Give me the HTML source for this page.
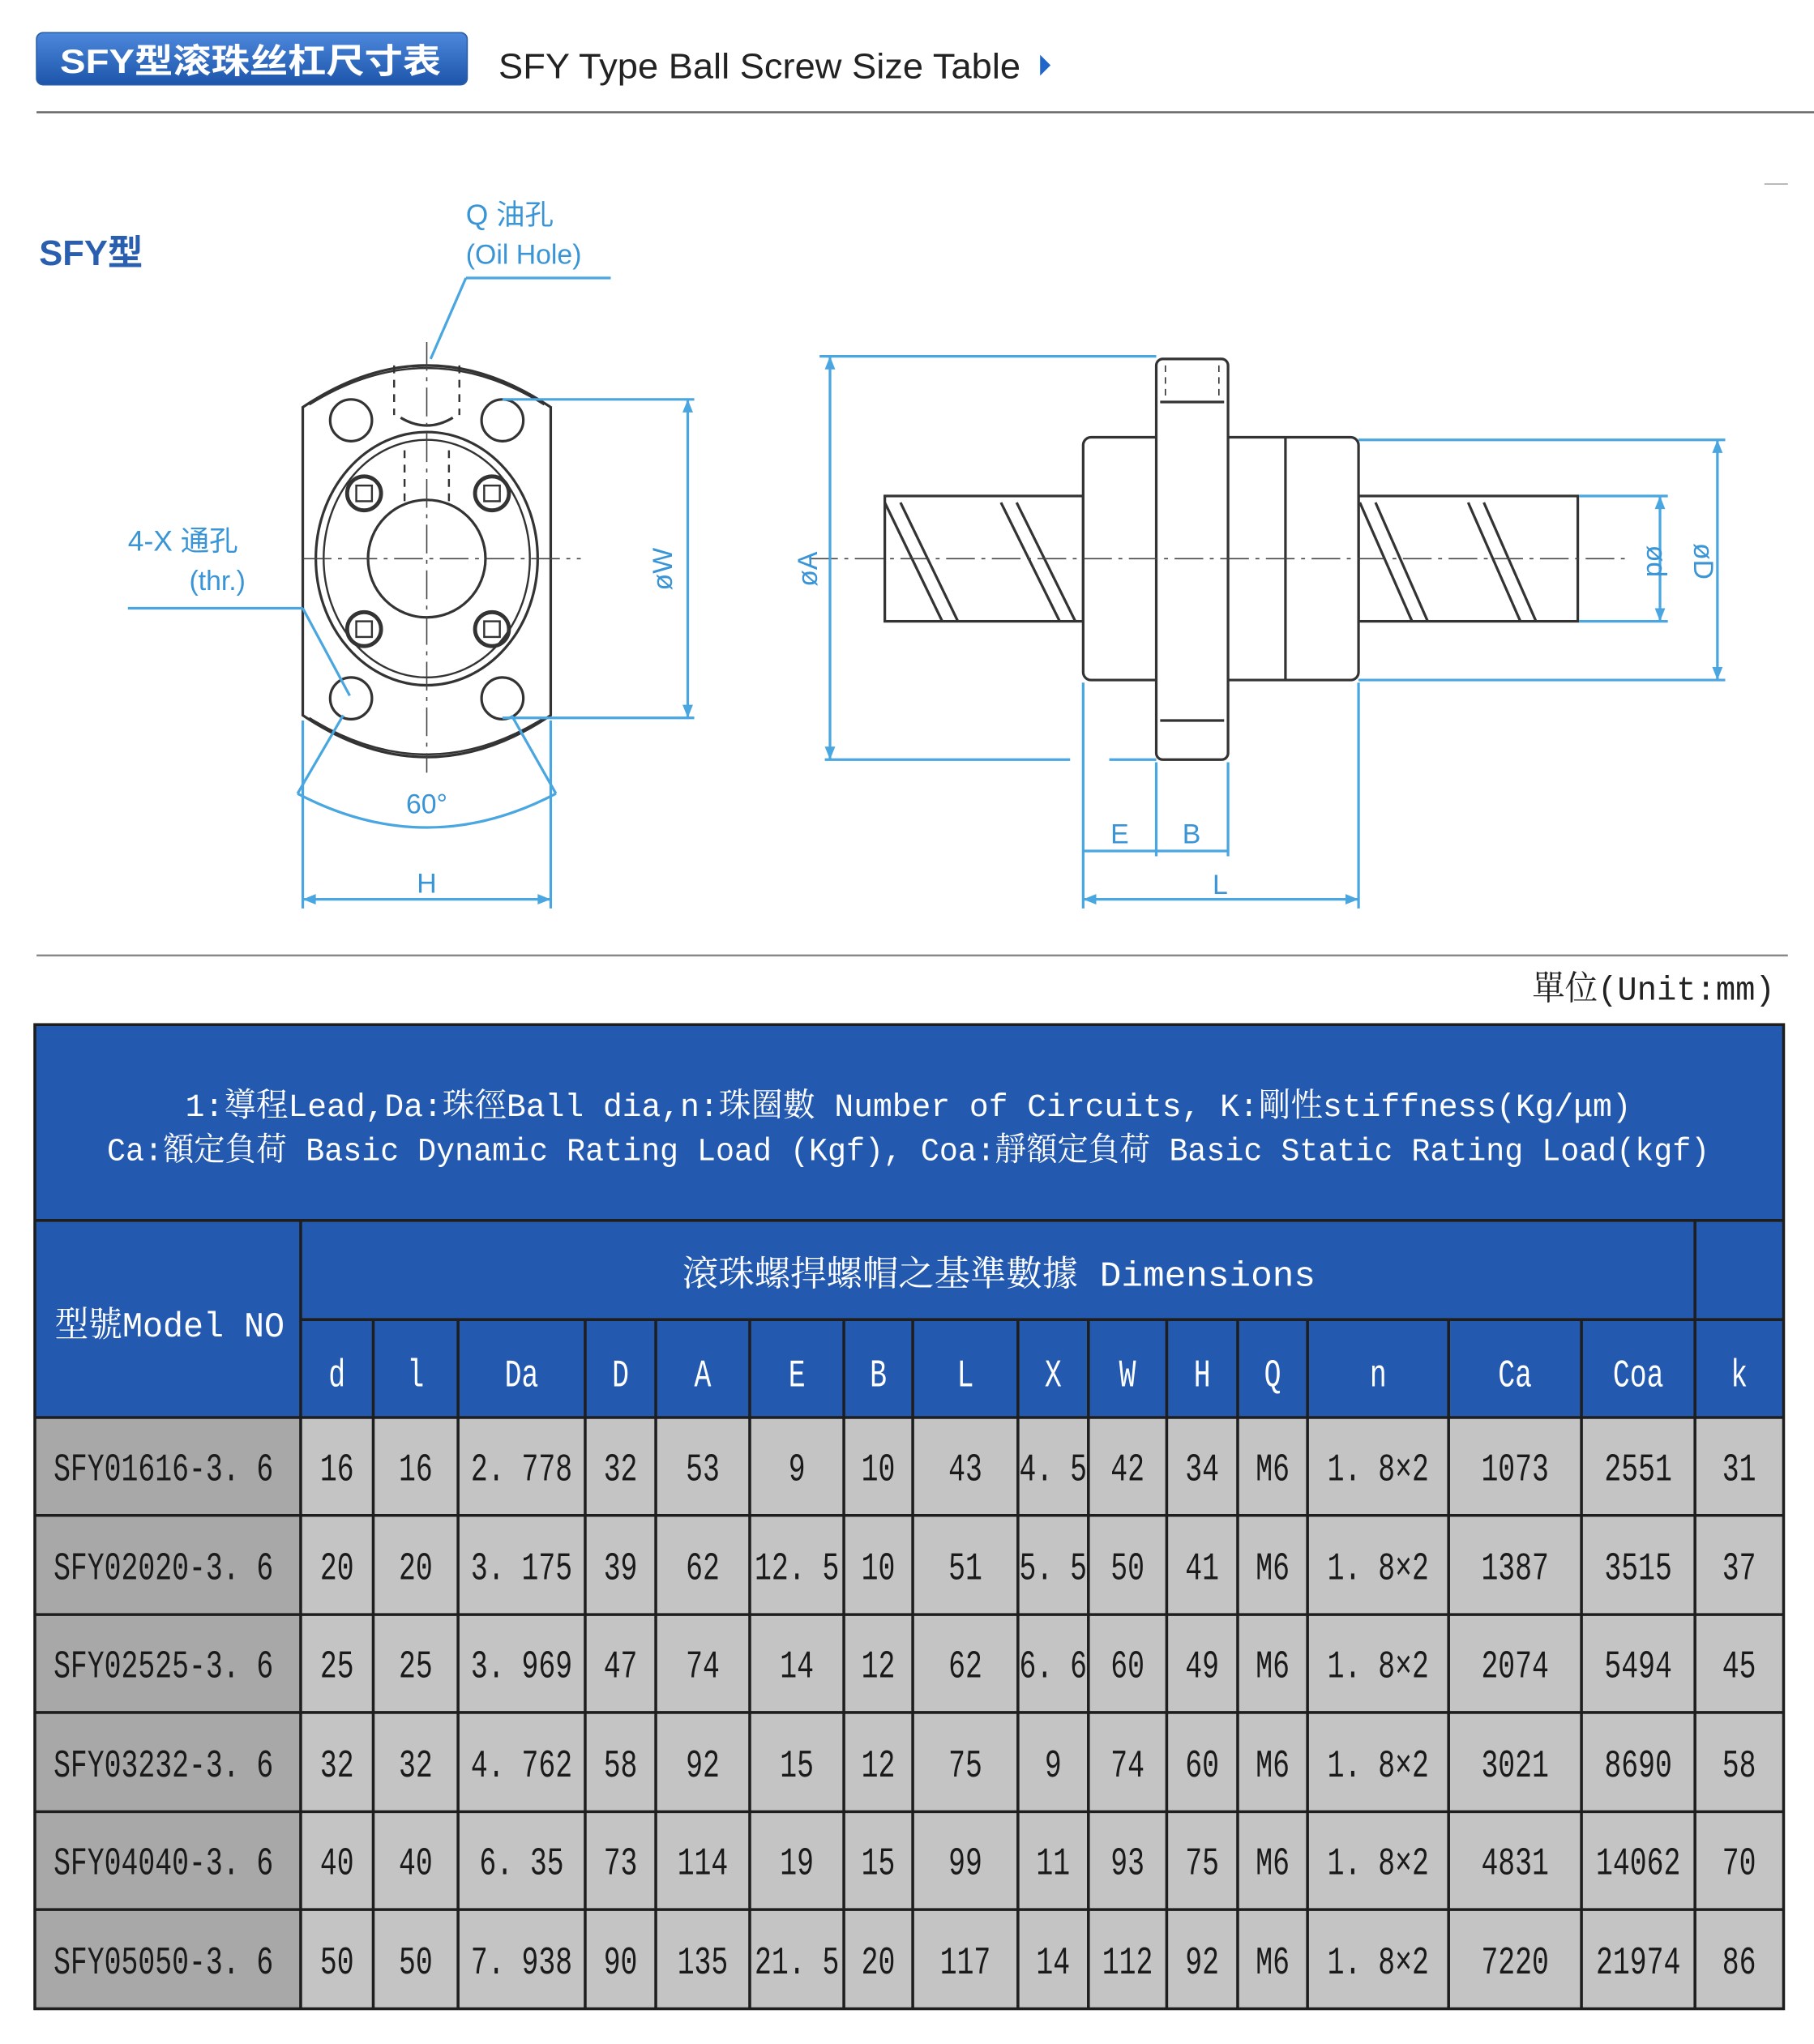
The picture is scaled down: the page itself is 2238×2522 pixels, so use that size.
<!DOCTYPE html>
<html><head><meta charset="utf-8"><style>
html,body{margin:0;padding:0;background:#fff;}
svg{display:block}
</style></head><body>
<svg width="2238" height="2522" viewBox="0 0 1390 1566" preserveAspectRatio="none" xmlns="http://www.w3.org/2000/svg">
<defs>
<linearGradient id="bg" x1="0" y1="0" x2="0" y2="1"><stop offset="0" stop-color="#4d88dc"/><stop offset="1" stop-color="#1c55aa"/></linearGradient>
</defs>
<rect width="1390" height="1566" fill="#fff"/>
<rect x="28" y="25" width="330" height="40" rx="5" fill="url(#bg)" stroke="#2b5ea8"/>
<text x="46" y="56" font-family="Liberation Sans, Noto Sans CJK SC, sans-serif" font-weight="bold" font-size="26" fill="#fff" textLength="292" lengthAdjust="spacingAndGlyphs">SFY型滚珠丝杠尺寸表</text>
<text x="382" y="60" font-family="Liberation Sans, sans-serif" font-size="27" fill="#222" textLength="400" lengthAdjust="spacingAndGlyphs">SFY Type Ball Screw Size Table</text>
<polygon points="797,42 805,50 797,58" fill="#1f66c8"/>
<line x1="28" y1="86" x2="1390" y2="86" stroke="#666" stroke-width="1.5"/>
<line x1="1352" y1="141" x2="1370" y2="141" stroke="#aaa" stroke-width="1"/>
<text x="30" y="203" font-family="Liberation Sans, Noto Sans CJK SC, sans-serif" font-weight="bold" font-size="27" fill="#2a5fb0">SFY型</text>

<g fill="none" stroke="#333" stroke-width="2">
<path d="M232,312 Q327,248 422,312 L422,548 Q327,612 232,548 Z"/>
<path d="M237,310 Q327,254 417,310" stroke-width="1.5"/>
<path d="M237,550 Q327,606 417,550" stroke-width="1.5"/>
<ellipse cx="327" cy="428" rx="85" ry="97"/>
<ellipse cx="327" cy="428" rx="79" ry="91" stroke-width="1.5"/>
<circle cx="327" cy="428" r="45"/>
<circle cx="269" cy="322" r="16"/><circle cx="385" cy="322" r="16"/>
<circle cx="269" cy="535" r="16"/><circle cx="385" cy="535" r="16"/>
<circle cx="279" cy="378" r="13" stroke-width="3"/><circle cx="377" cy="378" r="13" stroke-width="3"/>
<circle cx="279" cy="482" r="13" stroke-width="3"/><circle cx="377" cy="482" r="13" stroke-width="3"/>
<rect x="273" y="372" width="12" height="12" stroke-width="1.5"/><rect x="371" y="372" width="12" height="12" stroke-width="1.5"/>
<rect x="273" y="476" width="12" height="12" stroke-width="1.5"/><rect x="371" y="476" width="12" height="12" stroke-width="1.5"/>
<path d="M307,320 q20,12 40,0" stroke-width="2"/>
<line x1="302" y1="280" x2="302" y2="318" stroke-dasharray="6,5" stroke-width="1.5"/>
<line x1="352" y1="280" x2="352" y2="318" stroke-dasharray="6,5" stroke-width="1.5"/>
<line x1="310" y1="345" x2="310" y2="385" stroke-dasharray="6,5" stroke-width="1.5"/>
<line x1="344" y1="345" x2="344" y2="385" stroke-dasharray="6,5" stroke-width="1.5"/>
</g>
<g stroke="#444" stroke-width="1" stroke-dasharray="22,5,3,5" fill="none">
<line x1="232" y1="428" x2="445" y2="428"/>
<line x1="327" y1="262" x2="327" y2="592"/>
</g>
<g stroke="#49a6e0" stroke-width="2" fill="none">
<line x1="385" y1="306" x2="532" y2="306"/><line x1="385" y1="550" x2="532" y2="550"/>
<line x1="527" y1="306" x2="527" y2="550"/>
<line x1="232" y1="552" x2="232" y2="696"/><line x1="422" y1="552" x2="422" y2="696"/>
<line x1="232" y1="689" x2="422" y2="689"/>
<path d="M228,608 Q327,660 426,608"/>
<line x1="228" y1="608" x2="263" y2="548"/><line x1="426" y1="608" x2="392" y2="548"/>
<line x1="98" y1="466" x2="232" y2="466"/><line x1="232" y1="466" x2="268" y2="533"/>
<line x1="357" y1="213" x2="468" y2="213"/><line x1="357" y1="213" x2="330" y2="275"/>
</g>
<g fill="#49a6e0">
<polygon points="527,306 523,316 531,316"/><polygon points="527,550 523,540 531,540"/>
<polygon points="232,689 242,685 242,693"/><polygon points="422,689 412,685 412,693"/>
</g>
<g font-family="Liberation Sans, Noto Sans CJK SC, sans-serif" fill="#3a95d6" font-size="21">
<text x="515" y="436" transform="rotate(-90 515 436)" text-anchor="middle">øW</text>
<text x="327" y="684" text-anchor="middle">H</text>
<text x="327" y="623" text-anchor="middle">60°</text>
<text x="98" y="422" font-size="22">4-X 通孔</text>
<text x="145" y="452">(thr.)</text>
<text x="357" y="172" font-size="22">Q 油孔</text>
<text x="357" y="202">(Oil Hole)</text>
</g>

<g fill="none" stroke="#333" stroke-width="2">
<rect x="678" y="380" width="152" height="96"/>
<rect x="1041" y="380" width="168" height="96"/>
<rect x="830" y="335" width="211" height="186" rx="6" fill="#fff"/>
<line x1="985" y1="335" x2="985" y2="521"/>
<rect x="886" y="275" width="55" height="307" rx="5" fill="#fff"/>
<line x1="889" y1="308" x2="938" y2="308"/><line x1="889" y1="552" x2="938" y2="552"/>
<line x1="893" y1="280" x2="893" y2="305" stroke-dasharray="5,4" stroke-width="1"/>
<line x1="934" y1="280" x2="934" y2="305" stroke-dasharray="5,4" stroke-width="1"/>
<line x1="678" y1="385" x2="722" y2="476"/><line x1="690" y1="385" x2="734" y2="476"/>
<line x1="767" y1="385" x2="812" y2="476"/><line x1="779" y1="385" x2="824" y2="476"/>
<line x1="1042" y1="385" x2="1082" y2="476"/><line x1="1054" y1="385" x2="1094" y2="476"/>
<line x1="1125" y1="385" x2="1165" y2="476"/><line x1="1137" y1="385" x2="1177" y2="476"/>
</g>
<line x1="620" y1="428" x2="1245" y2="428" stroke="#444" stroke-width="1" stroke-dasharray="22,5,3,5"/>
<g stroke="#49a6e0" stroke-width="2" fill="none">
<line x1="628" y1="273" x2="886" y2="273"/>
<line x1="632" y1="582" x2="820" y2="582"/><line x1="850" y1="582" x2="886" y2="582"/>
<line x1="636" y1="273" x2="636" y2="582"/>
<line x1="1041" y1="337" x2="1322" y2="337"/><line x1="1041" y1="521" x2="1322" y2="521"/>
<line x1="1316" y1="337" x2="1316" y2="521"/>
<line x1="1210" y1="380" x2="1278" y2="380"/><line x1="1210" y1="476" x2="1278" y2="476"/>
<line x1="1272" y1="380" x2="1272" y2="476"/>
<line x1="830" y1="523" x2="830" y2="696"/><line x1="1041" y1="523" x2="1041" y2="696"/>
<line x1="886" y1="584" x2="886" y2="656"/><line x1="941" y1="584" x2="941" y2="656"/>
<line x1="830" y1="652" x2="941" y2="652"/>
<line x1="830" y1="689" x2="1041" y2="689"/>
</g>
<g fill="#49a6e0">
<polygon points="636,273 632,283 640,283"/><polygon points="636,582 632,572 640,572"/>
<polygon points="1316,337 1312,347 1320,347"/><polygon points="1316,521 1312,511 1320,511"/>
<polygon points="1272,380 1268,390 1276,390"/><polygon points="1272,476 1268,466 1276,466"/>
<polygon points="830,689 840,685 840,693"/><polygon points="1041,689 1031,685 1031,693"/>
</g>
<g font-family="Liberation Sans, sans-serif" fill="#3a95d6" font-size="21">
<text x="626" y="436" transform="rotate(-90 626 436)" text-anchor="middle">øA</text>
<text x="1262" y="430" transform="rotate(90 1262 430)" text-anchor="middle">ød</text>
<text x="1298" y="430" transform="rotate(90 1298 430)" text-anchor="middle">øD</text>
<text x="858" y="646" text-anchor="middle">E</text>
<text x="913" y="646" text-anchor="middle">B</text>
<text x="935" y="685" text-anchor="middle">L</text>
</g>

<line x1="28" y1="732" x2="1370" y2="732" stroke="#888" stroke-width="1.5"/>
<text x="1360" y="766" text-anchor="end" font-family="Liberation Mono, Noto Serif CJK TC, serif" font-size="26" fill="#222" textLength="186" lengthAdjust="spacingAndGlyphs">單位(Unit:mm)</text>

<rect x="26.7" y="785" width="1340" height="754" fill="#c4c4c4"/>
<rect x="26.7" y="785" width="1340" height="301" fill="#2459b0"/>
<rect x="26.7" y="1086" width="203.7" height="453" fill="#a8a8a8"/>
<g stroke="#1e1e1e" stroke-width="2.2" fill="none">
<rect x="26.7" y="785" width="1340" height="754"/>
<line x1="26.7" y1="935" x2="1366.7" y2="935"/>
<line x1="230.4" y1="1011" x2="1366.7" y2="1011"/>
<line x1="1298.8" y1="935" x2="1298.8" y2="1011"/>
<line x1="26.7" y1="1086" x2="1366.7" y2="1086"/>
<line x1="26.7" y1="1161" x2="1366.7" y2="1161"/>
<line x1="26.7" y1="1237" x2="1366.7" y2="1237"/>
<line x1="26.7" y1="1312" x2="1366.7" y2="1312"/>
<line x1="26.7" y1="1388" x2="1366.7" y2="1388"/>
<line x1="26.7" y1="1463" x2="1366.7" y2="1463"/>
<line x1="230.4" y1="935" x2="230.4" y2="1539"/>
<line x1="286" y1="1011" x2="286" y2="1539"/><line x1="351" y1="1011" x2="351" y2="1539"/>
<line x1="448.4" y1="1011" x2="448.4" y2="1539"/><line x1="502.5" y1="1011" x2="502.5" y2="1539"/>
<line x1="574.5" y1="1011" x2="574.5" y2="1539"/><line x1="646.6" y1="1011" x2="646.6" y2="1539"/>
<line x1="699.4" y1="1011" x2="699.4" y2="1539"/><line x1="780" y1="1011" x2="780" y2="1539"/>
<line x1="834" y1="1011" x2="834" y2="1539"/><line x1="894" y1="1011" x2="894" y2="1539"/>
<line x1="948.4" y1="1011" x2="948.4" y2="1539"/><line x1="1001.9" y1="1011" x2="1001.9" y2="1539"/>
<line x1="1110" y1="1011" x2="1110" y2="1539"/><line x1="1211.8" y1="1011" x2="1211.8" y2="1539"/>
<line x1="1298.8" y1="1011" x2="1298.8" y2="1539"/>
</g>
<g font-family="Liberation Mono, Noto Serif CJK TC, serif" fill="#fff" font-size="25">
<text x="142" y="855" textLength="1108" lengthAdjust="spacingAndGlyphs">1:導程Lead,Da:珠徑Ball dia,n:珠圈數 Number of Circuits,  K:剛性stiffness(Kg/μm)</text>
<text x="82" y="889" textLength="1228" lengthAdjust="spacingAndGlyphs">Ca:額定負荷 Basic Dynamic Rating Load (Kgf),  Coa:靜額定負荷 Basic Static Rating Load(kgf)</text>
<text x="523" y="985" textLength="485" lengthAdjust="spacingAndGlyphs" font-size="27">滾珠螺捍螺帽之基準數據 Dimensions</text>
<text x="42" y="1024" textLength="176" lengthAdjust="spacingAndGlyphs" font-size="27">型號Model NO</text>
</g>
<g font-family="Liberation Mono, Noto Serif CJK TC, serif" font-size="30" transform="scale(0.72,1)" text-anchor="middle">
<g fill="#fff">
<text x="358.6" y="1062">d</text><text x="442.4" y="1062">l</text><text x="555.1" y="1062">Da</text>
<text x="660.4" y="1062">D</text><text x="747.9" y="1062">A</text><text x="848.1" y="1062">E</text>
<text x="934.7" y="1062">B</text><text x="1027.4" y="1062">L</text><text x="1120.8" y="1062">X</text>
<text x="1200" y="1062">W</text><text x="1279.4" y="1062">H</text><text x="1354.4" y="1062">Q</text>
<text x="1466.7" y="1062">n</text><text x="1612.4" y="1062">Ca</text><text x="1743.5" y="1062">Coa</text>
<text x="1850.9" y="1062">k</text>
</g>
<g fill="#1a1a1a">
<g transform="translate(0,1134)">
<text x="57" text-anchor="start">SFY01616-3. 6</text><text x="358.6">16</text><text x="442.4">16</text><text x="555.1">2. 778</text><text x="660.4">32</text><text x="747.9">53</text><text x="848.1">9</text><text x="934.7">10</text><text x="1027.4">43</text><text x="1120.8">4. 5</text><text x="1200">42</text><text x="1279.4">34</text><text x="1354.4">M6</text><text x="1466.7">1. 8×2</text><text x="1612.4">1073</text><text x="1743.5">2551</text><text x="1850.9">31</text>
</g>
<g transform="translate(0,1210)">
<text x="57" text-anchor="start">SFY02020-3. 6</text><text x="358.6">20</text><text x="442.4">20</text><text x="555.1">3. 175</text><text x="660.4">39</text><text x="747.9">62</text><text x="848.1">12. 5</text><text x="934.7">10</text><text x="1027.4">51</text><text x="1120.8">5. 5</text><text x="1200">50</text><text x="1279.4">41</text><text x="1354.4">M6</text><text x="1466.7">1. 8×2</text><text x="1612.4">1387</text><text x="1743.5">3515</text><text x="1850.9">37</text>
</g>
<g transform="translate(0,1285)">
<text x="57" text-anchor="start">SFY02525-3. 6</text><text x="358.6">25</text><text x="442.4">25</text><text x="555.1">3. 969</text><text x="660.4">47</text><text x="747.9">74</text><text x="848.1">14</text><text x="934.7">12</text><text x="1027.4">62</text><text x="1120.8">6. 6</text><text x="1200">60</text><text x="1279.4">49</text><text x="1354.4">M6</text><text x="1466.7">1. 8×2</text><text x="1612.4">2074</text><text x="1743.5">5494</text><text x="1850.9">45</text>
</g>
<g transform="translate(0,1361)">
<text x="57" text-anchor="start">SFY03232-3. 6</text><text x="358.6">32</text><text x="442.4">32</text><text x="555.1">4. 762</text><text x="660.4">58</text><text x="747.9">92</text><text x="848.1">15</text><text x="934.7">12</text><text x="1027.4">75</text><text x="1120.8">9</text><text x="1200">74</text><text x="1279.4">60</text><text x="1354.4">M6</text><text x="1466.7">1. 8×2</text><text x="1612.4">3021</text><text x="1743.5">8690</text><text x="1850.9">58</text>
</g>
<g transform="translate(0,1436)">
<text x="57" text-anchor="start">SFY04040-3. 6</text><text x="358.6">40</text><text x="442.4">40</text><text x="555.1">6. 35</text><text x="660.4">73</text><text x="747.9">114</text><text x="848.1">19</text><text x="934.7">15</text><text x="1027.4">99</text><text x="1120.8">11</text><text x="1200">93</text><text x="1279.4">75</text><text x="1354.4">M6</text><text x="1466.7">1. 8×2</text><text x="1612.4">4831</text><text x="1743.5">14062</text><text x="1850.9">70</text>
</g>
<g transform="translate(0,1512)">
<text x="57" text-anchor="start">SFY05050-3. 6</text><text x="358.6">50</text><text x="442.4">50</text><text x="555.1">7. 938</text><text x="660.4">90</text><text x="747.9">135</text><text x="848.1">21. 5</text><text x="934.7">20</text><text x="1027.4">117</text><text x="1120.8">14</text><text x="1200">112</text><text x="1279.4">92</text><text x="1354.4">M6</text><text x="1466.7">1. 8×2</text><text x="1612.4">7220</text><text x="1743.5">21974</text><text x="1850.9">86</text>
</g>
</g>
</g>
</svg>
</body></html>
